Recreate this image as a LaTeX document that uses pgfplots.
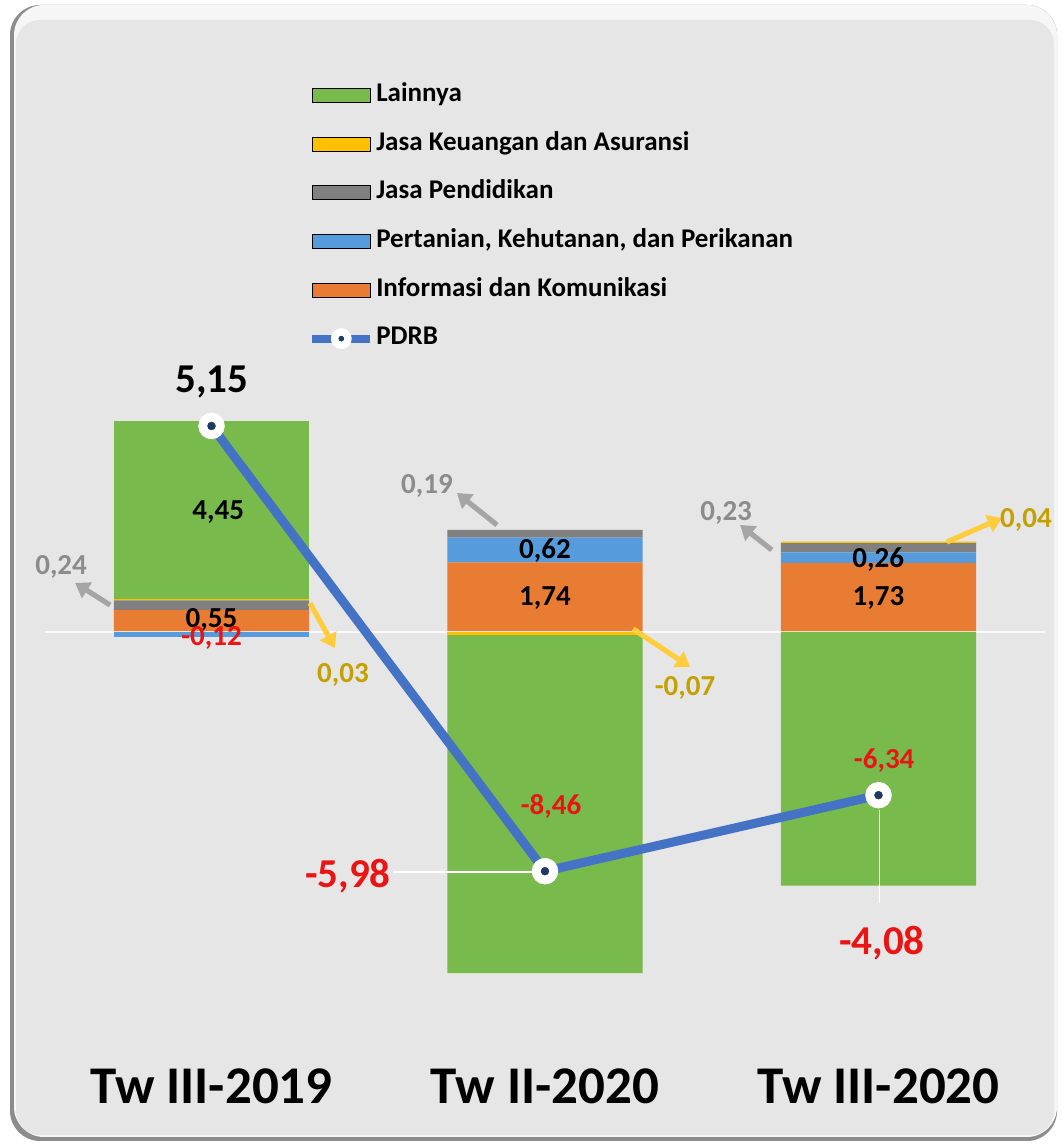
\documentclass[border=0pt]{standalone}
\usepackage{pgfplots}
\usepackage{pgfplotstable}
\pgfplotsset{compat=1.18}
\usepackage{fontspec}
\setmainfont{Carlito}
\usetikzlibrary{arrows.meta}

\definecolor{cLain}{RGB}{120,186,76}
\definecolor{cUang}{RGB}{255,192,0}
\definecolor{cDidik}{RGB}{128,128,128}
\definecolor{cTani}{RGB}{86,156,220}
\definecolor{cInfo}{RGB}{232,124,50}
\definecolor{cLine}{RGB}{68,114,196}
\definecolor{cDot}{RGB}{31,56,100}
\definecolor{cRed}{RGB}{235,20,20}
\definecolor{cGold}{RGB}{196,160,0}
\definecolor{cGrayTxt}{RGB}{140,140,140}
\definecolor{cGrayArr}{RGB}{165,165,165}
\definecolor{cYelArr}{RGB}{255,205,60}
\definecolor{cPanel}{RGB}{230,230,230}
\definecolor{cRim}{RGB}{246,246,246}
\definecolor{cEdge}{RGB}{140,140,140}

% contributions per sector: positive part / negative part
\pgfplotstableread{
x pos neg
0 0.55 0
1 1.74 0
2 1.73 0
}\tInfo
\pgfplotstableread{
x pos neg
0 0 -0.12
1 0.62 0
2 0.26 0
}\tTani
\pgfplotstableread{
x pos neg
0 0.24 0
1 0.19 0
2 0.23 0
}\tDidik
\pgfplotstableread{
x pos neg
0 0.03 0
1 0 -0.07
2 0.04 0
}\tUang
\pgfplotstableread{
x pos neg
0 4.45 0
1 0 -8.46
2 0 -6.34
}\tLain
\pgfplotstableread{
x y
0 5.15
1 -5.98
2 -4.08
}\tPdrb

\pgfplotsset{
  base/.style={
    scale only axis, width=500.25pt, height=320pt,
    at={(22.375pt,56pt)}, anchor=south west,
    xmin=-0.5, xmax=2.5, ymin=-10, ymax=6,
    clip=false,
  },
  bars/.style={ybar stacked, bar width=0.585},
  barleg/.style={legend image code/.code={\fill[##1] (0pt,-3.5pt) rectangle (29pt,3.5pt);}},
  pdrbleg/.style={legend image code/.code={
      \draw[cLine, line width=4pt] (0pt,0pt) -- (29pt,0pt);
      \fill[white] (14.5pt,0pt) circle (5pt);
      \fill[cDot] (14.5pt,0pt) circle (1.2pt);}},
}
\tikzset{
  lbl/.style={font=\bfseries\fontsize{14.5}{16}\selectfont},
  big/.style={font=\bfseries\fontsize{20.5}{23}\selectfont},
  arr/.style={line width=2.6pt, -{Triangle[length=7pt,width=9pt]}},
}

\begin{document}
\begin{tikzpicture}
% background panel
\fill[white] (0,0) rectangle (530.5pt,572pt);
\useasboundingbox (0,0) rectangle (530.5pt,572pt);
\fill[cEdge, rounded corners=15pt] (5pt,1.5pt) rectangle (528.5pt,569.5pt);
\fill[cRim, rounded corners=15pt] (7pt,3.5pt) rectangle (528.5pt,569.5pt);
\fill[cPanel, rounded corners=12pt] (8pt,4.5pt) rectangle (527pt,562pt);

% positive stack
\begin{axis}[base, bars,
    xtick={0,1,2},
    xticklabels={Tw III-2019, Tw II-2020, Tw III-2020},
    ytick=\empty,
    axis line style={draw=none},
    major tick length=0pt,
    xticklabel style={font=\bfseries\fontsize{26.5}{30}\selectfont, anchor=north, inner sep=0pt, yshift=-18pt},
]
\draw[white, opacity=0.8, line width=0.8pt] (axis cs:-0.5,0) -- (axis cs:2.5,0);
\addplot[fill=cInfo, draw=none] table[x=x, y=pos] {\tInfo};
\addplot[fill=cTani, draw=none] table[x=x, y=pos] {\tTani};
\addplot[fill=cDidik, draw=none] table[x=x, y=pos] {\tDidik};
\addplot[fill=cUang, draw=none] table[x=x, y=pos] {\tUang};
\addplot[fill=cLain, draw=none] table[x=x, y=pos] {\tLain};
\end{axis}

% negative stack
\begin{axis}[base, bars, hide axis]
\addplot[fill=cInfo, draw=none] table[x=x, y=neg] {\tInfo};
\addplot[fill=cTani, draw=none] table[x=x, y=neg] {\tTani};
\addplot[fill=cDidik, draw=none] table[x=x, y=neg] {\tDidik};
\addplot[fill=cUang, draw=none] table[x=x, y=neg] {\tUang};
\addplot[fill=cLain, draw=none] table[x=x, y=neg] {\tLain};
\end{axis}

% PDRB line, labels, legend
\begin{axis}[base, hide axis,
    legend cell align=left,
    legend style={at={(0.263,1.484)}, anchor=north west, draw=none, fill=none,
      inner sep=0pt, row sep=11.3pt,
      font=\bfseries\fontsize{13.5}{15}\selectfont,
      nodes={inner sep=1pt, text height=8.5pt, text depth=2.5pt}},
]
\addlegendimage{barleg, fill=cLain}\addlegendentry{Lainnya}
\addlegendimage{barleg, fill=cUang}\addlegendentry{Jasa Keuangan dan Asuransi}
\addlegendimage{barleg, fill=cDidik}\addlegendentry{Jasa Pendidikan}
\addlegendimage{barleg, fill=cTani}\addlegendentry{Pertanian, Kehutanan, dan Perikanan}
\addlegendimage{barleg, fill=cInfo}\addlegendentry{Informasi dan Komunikasi}
\addlegendimage{pdrbleg}\addlegendentry{PDRB}

% leader lines
\draw[white, line width=0.6pt] (axis cs:0.544,-6.0) -- (axis cs:0.97,-6.0);
\draw[white, line width=0.6pt] (axis cs:2.004,-4.45) -- (axis cs:2.004,-6.775);

\addplot[cLine, line width=4.5pt, forget plot] table[x=x, y=y] {\tPdrb};
\addplot[only marks, mark=*, mark size=6.5pt, mark options={fill=white, draw=white, line width=0.2pt}, forget plot] table[x=x, y=y] {\tPdrb};
\addplot[only marks, mark=*, mark size=2pt, mark options={fill=cDot, draw=cDot, line width=0.2pt}, forget plot] table[x=x, y=y] {\tPdrb};

% arrows
\draw[cGrayArr, arr] (axis cs:-0.304,0.675) -- (axis cs:-0.409,1.225);
\draw[cYelArr, arr] (axis cs:0.295,0.725) -- (axis cs:0.370,-0.4);
\draw[cGrayArr, arr] (axis cs:0.856,2.675) -- (axis cs:0.736,3.475);
\draw[cYelArr, arr] (axis cs:1.264,0.075) -- (axis cs:1.435,-0.875);
\draw[cGrayArr, arr] (axis cs:1.680,2.05) -- (axis cs:1.585,2.675);
\draw[cYelArr, arr] (axis cs:2.205,2.25) -- (axis cs:2.370,2.85);

% value labels
\node[big] at (axis cs:0.0015,6.25) {5,15};
\node[lbl] at (axis cs:0.02,3.0) {4,45};
\node[lbl] at (axis cs:0,0.3) {0,55};
\node[lbl, text=cRed] at (axis cs:0,-0.14) {-0,12};
\node[lbl, text=cGrayTxt] at (axis cs:-0.451,1.625) {0,24};
\node[lbl, text=cGold] at (axis cs:0.394,-1.075) {0,03};

\node[lbl, text=cGrayTxt] at (axis cs:0.646,3.65) {0,19};
\node[lbl] at (axis cs:1.0,2.025) {0,62};
\node[lbl] at (axis cs:1.0,0.85) {1,74};
\node[lbl, text=cGold] at (axis cs:1.42,-1.4) {-0,07};
\node[lbl, text=cRed] at (axis cs:1.018,-4.35) {-8,46};
\node[big, text=cRed] at (axis cs:0.409,-6.1) {-5,98};

\node[lbl, text=cGrayTxt] at (axis cs:1.543,2.975) {0,23};
\node[lbl, text=cGold] at (axis cs:2.442,2.8) {0,04};
\node[lbl] at (axis cs:1.999,1.8) {0,26};
\node[lbl] at (axis cs:2.0,0.85) {1,73};
\node[lbl, text=cRed] at (axis cs:2.017,-3.225) {-6,34};
\node[big, text=cRed] at (axis cs:2.01,-7.775) {-4,08};
\end{axis}
\end{tikzpicture}
\end{document}
